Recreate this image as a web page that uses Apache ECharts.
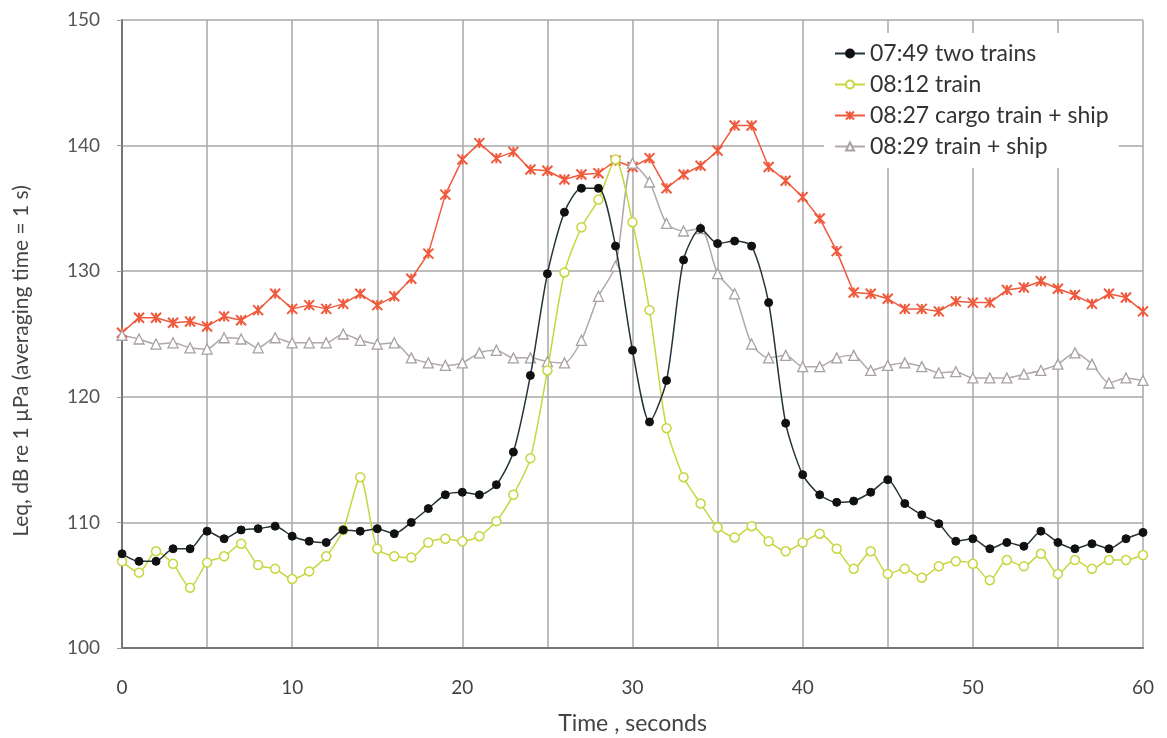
<!DOCTYPE html>
<html>
<head>
<meta charset="utf-8">
<title>Leq vs time</title>
<script src="https://cdn.jsdelivr.net/npm/echarts@6/dist/echarts.min.js"></script>
<style>
    html, body { margin: 0; padding: 0; background: #fff; }
    #chart { width: 1167px; height: 738px; }
</style>
</head>
<body>
<div id="chart"></div>
<script>
// time axis, seconds
var seconds = [0, 1, 2, 3, 4, 5, 6, 7, 8, 9, 10, 11, 12, 13, 14, 15, 16, 17, 18, 19, 20,
    21, 22, 23, 24, 25, 26, 27, 28, 29, 30, 31, 32, 33, 34, 35, 36, 37, 38, 39, 40,
    41, 42, 43, 44, 45, 46, 47, 48, 49, 50, 51, 52, 53, 54, 55, 56, 57, 58, 59, 60];

var seriesNames = ['07:49 two trains', '08:12 train', '08:27 cargo train + ship', '08:29 train + ship'];

// 07:49 two trains
var twoTrains = [107.5, 106.9, 106.9, 107.9, 107.9, 109.3, 108.7, 109.4, 109.5, 109.7, 108.9,
    108.5, 108.4, 109.4, 109.3, 109.5, 109.1, 110.0, 111.1, 112.2, 112.4,
    112.2, 113.0, 115.6, 121.7, 129.8, 134.7, 136.6, 136.6, 132.0, 123.7,
    118.0, 121.3, 130.9, 133.4, 132.2, 132.4, 132.0, 127.5, 117.9, 113.8,
    112.2, 111.6, 111.7, 112.4, 113.4, 111.5, 110.6, 109.9, 108.5, 108.7,
    107.9, 108.4, 108.1, 109.3, 108.4, 107.9, 108.3, 107.9, 108.7, 109.2];

// 08:12 train
var oneTrain = [106.9, 106.0, 107.7, 106.7, 104.8, 106.8, 107.3, 108.3, 106.6, 106.3, 105.5,
    106.1, 107.3, 109.4, 113.6, 107.9, 107.3, 107.2, 108.4, 108.7, 108.5,
    108.9, 110.1, 112.2, 115.1, 122.1, 129.9, 133.5, 135.7, 138.9, 133.9,
    126.9, 117.5, 113.6, 111.5, 109.6, 108.8, 109.7, 108.5, 107.7, 108.4,
    109.1, 107.9, 106.3, 107.7, 105.9, 106.3, 105.6, 106.5, 106.9, 106.7,
    105.4, 107.0, 106.5, 107.5, 105.9, 107.0, 106.3, 107.0, 107.0, 107.4];

// 08:27 cargo train + ship
var cargoShip = [125.1, 126.3, 126.3, 125.9, 126.0, 125.6, 126.4, 126.1, 126.9, 128.2, 127.0,
    127.3, 127.0, 127.4, 128.2, 127.3, 128.0, 129.4, 131.4, 136.1, 138.9,
    140.2, 139.0, 139.5, 138.1, 138.0, 137.3, 137.7, 137.8, 138.8, 138.3,
    139.0, 136.6, 137.7, 138.4, 139.6, 141.6, 141.6, 138.3, 137.2, 135.9,
    134.2, 131.6, 128.3, 128.2, 127.8, 127.0, 127.0, 126.8, 127.6, 127.5,
    127.5, 128.5, 128.7, 129.2, 128.6, 128.1, 127.4, 128.2, 127.9, 126.8];

// 08:29 train + ship
var trainShip = [124.9, 124.6, 124.2, 124.3, 123.9, 123.8, 124.7, 124.6, 123.9, 124.7, 124.3,
    124.3, 124.3, 125.0, 124.5, 124.2, 124.3, 123.1, 122.7, 122.5, 122.7,
    123.5, 123.7, 123.1, 123.1, 122.8, 122.7, 124.5, 128.0, 130.4, 138.6,
    137.1, 133.8, 133.2, 133.4, 129.8, 128.2, 124.2, 123.1, 123.3, 122.4,
    122.4, 123.1, 123.3, 122.1, 122.5, 122.7, 122.4, 121.9, 122.0, 121.5,
    121.5, 121.5, 121.8, 122.1, 122.6, 123.5, 122.6, 121.1, 121.5, 121.3];

// pair every value with its time
function pairs(values) {
    var out = [];
    for (let i = 0; i < values.length; i++) {
        out.push([seconds[i], values[i]]);
    }
    return out;
}

var chart = echarts.init(document.getElementById('chart'));
var font = 'Lato, "Open Sans", sans-serif';
var starPath = 'path://M0,0L10,10M10,0L0,10M5,0L5,10';

var option = {
    animation: false,
    backgroundColor: '#fff',
    grid: { left: 122, right: 24, top: 20, bottom: 90, outerBoundsMode: 'none' },
    legend: {
        orient: 'vertical',
        left: 824,
        top: 33,
        itemGap: 8,
        itemWidth: 30,
        itemHeight: 10,
        padding: [9, 10, 10, 10],
        backgroundColor: '#fff',
        textStyle: { fontFamily: font, fontSize: 23, color: '#333' },
        data: seriesNames
    },
    xAxis: {
        type: 'value',
        min: 0,
        max: 60,
        interval: 5,
        name: 'Time , seconds',
        nameLocation: 'middle',
        nameGap: 64,
        nameTextStyle: { fontFamily: font, fontSize: 23, color: '#444' },
        axisLine: { show: true, onZero: false, lineStyle: { color: '#777', width: 2 } },
        axisTick: { show: false },
        axisLabel: {
            margin: 30,
            fontFamily: font,
            fontSize: 19,
            color: '#444',
            formatter: function (v) { return v % 10 === 0 ? String(v) : ''; }
        },
        splitLine: { show: true, lineStyle: { color: '#a8a8a8', width: 1.5 } }
    },
    yAxis: {
        type: 'value',
        min: 100,
        max: 150,
        interval: 10,
        name: 'Leq, dB re 1 µPa (averaging time = 1 s)',
        nameLocation: 'middle',
        nameGap: 90,
        nameTextStyle: { fontFamily: font, fontSize: 21, color: '#444', padding: [0, 54, 0, 0] },
        axisLine: { show: true, lineStyle: { color: '#777', width: 2 } },
        axisTick: { show: true, length: 5, lineStyle: { color: '#999' } },
        axisLabel: { margin: 22, fontFamily: font, fontSize: 19, color: '#555' },
        splitLine: { show: true, lineStyle: { color: '#a8a8a8', width: 1.5 } }
    },
    series: [
        {
            name: seriesNames[0],
            type: 'line',
            data: pairs(twoTrains),
            smooth: 0.25,
            symbol: 'circle',
            symbolSize: 8,
            lineStyle: { color: '#23343a', width: 1.5 },
            itemStyle: { color: '#111', borderColor: '#111', borderWidth: 1 },
            z: 4
        },
        {
            name: seriesNames[1],
            type: 'line',
            data: pairs(oneTrain),
            smooth: 0.25,
            symbol: 'circle',
            symbolSize: 9,
            lineStyle: { color: '#c6d63e', width: 1.5 },
            itemStyle: { color: '#fff', borderColor: '#c6d63e', borderWidth: 1.5 },
            z: 3
        },
        {
            name: seriesNames[2],
            type: 'line',
            data: pairs(cargoShip),
            symbol: starPath,
            symbolSize: 10,
            lineStyle: { color: '#ef5a3c', width: 1.5 },
            itemStyle: { color: '#ef5a3c', borderColor: '#ef5a3c', borderWidth: 2 },
            z: 2
        },
        {
            name: seriesNames[3],
            type: 'line',
            data: pairs(trainShip),
            smooth: 0.25,
            symbol: 'triangle',
            symbolSize: 10,
            lineStyle: { color: '#b0a8aa', width: 1.5 },
            itemStyle: { color: '#fff', borderColor: '#a8a0a2', borderWidth: 1.3 },
            z: 2
        }
    ]
};

option && chart.setOption(option);
window.addEventListener('resize', chart.resize);
</script>
</body>
</html>
